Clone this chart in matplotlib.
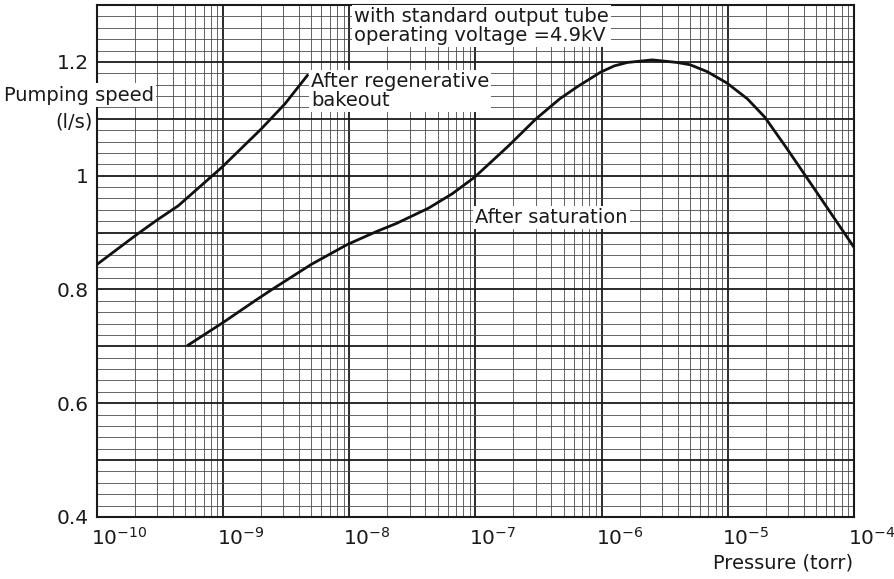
import numpy as np
import matplotlib
matplotlib.use("Agg")
import matplotlib.pyplot as plt
from matplotlib.ticker import LogLocator, FixedLocator, FuncFormatter, NullFormatter
from matplotlib.transforms import ScaledTranslation

# ---- data ----
bakeout_pressure = [1.0e-10, 2.11e-10, 2.99e-10, 4.40e-10, 9.8e-10, 2.0e-9, 3.08e-9, 4.72e-9]
bakeout_speed = [0.844, 0.898, 0.922, 0.947, 1.015, 1.082, 1.126, 1.178]

saturation_pressure = [5.18e-10, 1.0e-9, 1.84e-9, 2.44e-9, 4.99e-9, 9.64e-9, 1.65e-8,
                       2.36e-8, 4.25e-8, 6.52e-8, 9.8e-8, 1.82e-7, 3.02e-7, 4.65e-7,
                       6.38e-7, 9.82e-7, 1.26e-6, 1.60e-6, 2.52e-6, 3.96e-6, 5.02e-6,
                       6.84e-6, 9.82e-6, 1.43e-5, 1.96e-5, 2.85e-5, 4.15e-5, 6.03e-5, 1.0e-4]
saturation_speed = [0.701, 0.742, 0.782, 0.800, 0.844, 0.879, 0.902, 0.916, 0.943, 0.968,
                    0.997, 1.052, 1.100, 1.135, 1.156, 1.182, 1.193, 1.199, 1.2035, 1.199,
                    1.195, 1.183, 1.163, 1.135, 1.103, 1.052, 0.999, 0.946, 0.874]

x_ticks = [1e-10, 1e-9, 1e-8, 1e-7, 1e-6, 1e-5, 1e-4]
x_tick_labels = [r"$10^{-10}$", r"$10^{-9}$", r"$10^{-8}$", r"$10^{-7}$",
                 r"$10^{-6}$", r"$10^{-5}$", r"$10^{-4}$"]
y_labelled = {0.4: "0.4", 0.6: "0.6", 0.8: "0.8", 1.0: "1", 1.2: "1.2"}

plt.rcParams['font.family'] = ['DejaVu Sans']
plt.rcParams['mathtext.fontset'] = 'dejavusans'

W, H = 895, 579
fig = plt.figure(figsize=(W / 100, H / 100), dpi=100)
ax = fig.add_axes([97 / W, 1 - 517 / H, (854 - 97) / W, (517 - 5) / H])

ax.set_xscale('log')
ax.set_xlim(1e-10, 1e-4)
ax.set_ylim(0.4, 1.3)

# grid like graph paper
ax.xaxis.set_major_locator(FixedLocator(x_ticks))
ax.xaxis.set_minor_locator(LogLocator(base=10, subs=np.arange(2, 10), numticks=20))
ax.xaxis.set_minor_formatter(NullFormatter())
ax.yaxis.set_major_locator(FixedLocator(np.round(np.arange(0.4, 1.301, 0.1), 2)))
ax.yaxis.set_minor_locator(FixedLocator(np.round(np.arange(0.4, 1.301, 0.02), 2)))

def yfmt(v, pos):
    return y_labelled.get(round(v, 2), "")
ax.yaxis.set_major_formatter(FuncFormatter(yfmt))
ax.set_xticks(x_ticks)
ax.set_xticklabels(x_tick_labels)

ax.grid(which='major', color='#1a1a1a', linewidth=1.3)
ax.grid(which='minor', color='#4a4a4a', linewidth=0.6)
ax.set_axisbelow(True)
ax.tick_params(which='both', length=0)
ax.tick_params(axis='y', labelsize=14.5, pad=6, colors='#1a1a1a')
ax.tick_params(axis='x', labelsize=14.5, pad=7, colors='#1a1a1a')
for s in ax.spines.values():
    s.set_linewidth(1.5)
    s.set_color('#1a1a1a')

offset = ScaledTranslation(-6 / 100, 0, fig.dpi_scale_trans)
for lab in ax.get_xticklabels():
    lab.set_horizontalalignment('left')
    lab.set_transform(lab.get_transform() + offset)

# curves
ax.plot(bakeout_pressure, bakeout_speed, color='#111111', linewidth=2.0,
        solid_capstyle='butt', solid_joinstyle='round', zorder=3)
ax.plot(saturation_pressure, saturation_speed, color='#111111', linewidth=2.0,
        solid_capstyle='butt', solid_joinstyle='round', zorder=3)

box = dict(facecolor='white', edgecolor='none', pad=1.5)
txt_color = '#1a1a1a'
fs = 14

ax.text(4.95e-9, 1.182, "After regenerative\nbakeout", fontsize=fs, color=txt_color,
        ha='left', va='top', linespacing=1.0, bbox=box, zorder=4)
ax.text(9.9e-8, 0.927, "After saturation", fontsize=fs, color=txt_color,
        ha='left', va='center', bbox=box, zorder=4)

fig.text(354 / W, 1 - 7 / H, "with standard output tube\noperating voltage =4.9kV",
         fontsize=fs, color=txt_color, ha='left', va='top', linespacing=1.0,
         bbox=box, zorder=5)
fig.text(4 / W, 1 - 95 / H, "Pumping speed", fontsize=fs, color=txt_color,
         ha='left', va='center', bbox=box, zorder=5)
fig.text(93 / W, 1 - 122 / H, "(l/s)", fontsize=fs, color=txt_color,
         ha='right', va='center', bbox=box, zorder=5)
fig.text(853 / W, 1 - 563 / H, "Pressure (torr)", fontsize=fs, color=txt_color,
         ha='right', va='center')

fig.savefig("out.png", dpi=100, facecolor='white')
